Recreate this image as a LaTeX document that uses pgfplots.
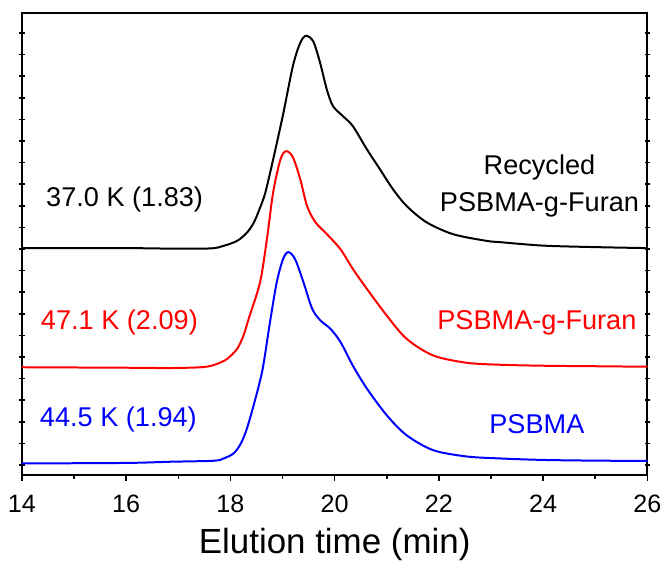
\documentclass[border=0pt]{standalone}
\usepackage{fontspec}
\setmainfont{Liberation Sans}
\usepackage{pgfplots}
\pgfplotsset{compat=1.18}

% y values are in arbitrary detector units (offset traces)
\pgfplotstableread{
x      y
14.00  311
16.00  311
16.85  310.5
17.62  310.7
17.87  313.3
18.13  318.3
18.32  326.7
18.45  336.7
18.57  351.7
18.67  366.7
18.82  400
19.01  445
19.20  494
19.34  517
19.45  524
19.59  518.3
19.72  497
19.85  470
19.97  453.3
20.16  443.3
20.35  433.3
20.62  410
20.87  390
21.12  370
21.38  353.3
21.76  337
22.27  325
22.91  318.3
23.17  317
24.00  313.5
25.00  312
26.00  311
}\recycled

\pgfplotstableread{
x      y
14.00  191.5
16.00  191
16.85  190.7
17.49  191.7
17.75  195
17.94  200
18.13  210
18.25  223.3
18.35  240
18.57  277
18.70  320
18.82  367
18.96  400
19.07  408.3
19.20  402
19.34  380
19.47  353.3
19.63  337
19.85  325
20.11  310
20.35  290
20.62  270
21.00  243.3
21.38  220
21.89  203.3
22.53  196
23.17  194
24.00  193
25.00  192.5
26.00  192
}\furan

\pgfplotstableread{
x      y
14.00  95
16.00  95.5
16.85  96.7
17.68  97.7
17.87  100
18.06  105
18.19  114
18.29  126
18.38  141
18.48  160
18.54  172
18.63  193
18.76  237
18.89  277
19.01  300
19.11  307
19.24  300
19.40  277
19.57  250
19.73  238.3
19.92  230
20.11  217
20.35  193
20.62  170
21.00  143.3
21.38  123.3
21.89  108.3
22.53  102
23.17  100
24.00  98.5
25.00  97.8
26.00  97.5
}\psbma

\begin{document}
\begin{tikzpicture}
\begin{axis}[
  scale only axis,
  width=313.5pt, height=231.7pt,
  xmin=14, xmax=26,
  ymin=83, ymax=546.7,
  axis line style={line width=1pt},
  xtick={14,16,...,26},
  minor x tick num=1,
  xtick pos=bottom,
  xtick align=outside,
  major tick length=2.8pt,
  minor tick length=1.6pt,
  every tick/.style={black, line width=0.8pt},
  ytick={93.33,115,...,527},
  yticklabels={},
  ytick pos=both,
  ytick align=center,
  xticklabel style={font=\fontsize{12.6pt}{15pt}\selectfont, yshift=-3.5pt},
  /pgf/number format/assume math mode=true,
  xlabel={Elution time (min)},
  xlabel style={font=\fontsize{17.5pt}{20pt}\selectfont, yshift=-1pt},
  clip=false,
]
\addplot[black, line width=1pt, smooth] table {\recycled};
\addplot[red, line width=1pt, smooth] table {\furan};
\addplot[blue, line width=1pt, smooth] table {\psbma};

\node[anchor=west, font=\fontsize{13.6pt}{16pt}\selectfont, black] at (axis cs:14.33,360) {37.0 K (1.83)};
\node[anchor=west, font=\fontsize{13.6pt}{16pt}\selectfont, red] at (axis cs:14.23,236) {47.1 K (2.09)};
\node[anchor=west, font=\fontsize{13.6pt}{16pt}\selectfont, blue] at (axis cs:14.21,139) {44.5 K (1.94)};

\node[align=center, font=\fontsize{13.6pt}{18.5pt}\selectfont, black] at (axis cs:23.93,373) {Recycled\\PSBMA-g-Furan};
\node[font=\fontsize{13.6pt}{16pt}\selectfont, red] at (axis cs:23.88,236) {PSBMA-g-Furan};
\node[font=\fontsize{13.6pt}{16pt}\selectfont, blue] at (axis cs:23.88,134) {PSBMA};
\end{axis}
\path ([xshift=-11pt,yshift=-41.6pt]current axis.south west) rectangle ([xshift=10pt,yshift=6.6pt]current axis.north east);
\end{tikzpicture}
\end{document}
